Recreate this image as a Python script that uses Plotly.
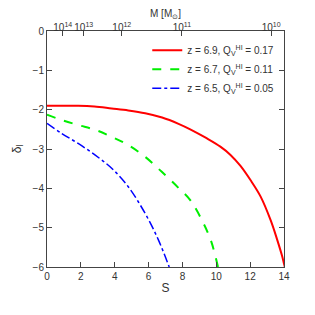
import plotly.graph_objects as go

# Data
s_red = [0, 1.0, 1.84, 2.8, 3.82, 4.8, 5.8, 6.8, 7.77, 8.46, 9.4, 10.24, 10.84, 11.43, 12.02, 12.62, 13.21, 13.6, 13.9, 14.0, 14.05]
d_red = [-1.90, -1.90, -1.90, -1.92, -1.97, -2.02, -2.09, -2.20, -2.36, -2.50, -2.72, -2.94, -3.15, -3.43, -3.79, -4.21, -4.81, -5.31, -5.74, -5.92, -6.0]

s_green = [0, 0.85, 1.84, 2.83, 3.82, 4.8, 5.8, 6.78, 7.77, 8.46, 9.2, 9.7, 10.1]
d_green = [-2.13, -2.26, -2.39, -2.51, -2.69, -2.90, -3.20, -3.58, -3.99, -4.30, -4.85, -5.35, -6.0]

s_blue = [0, 0.85, 1.84, 2.83, 3.82, 4.8, 5.8, 6.58, 7.22]
d_blue = [-2.35, -2.60, -2.86, -3.15, -3.49, -3.96, -4.64, -5.31, -6.0]

labels = ["z = 6.9, Q<sub>V</sub><sup>HI</sup> = 0.17",
          "z = 6.7, Q<sub>V</sub><sup>HI</sup> = 0.11",
          "z = 6.5, Q<sub>V</sub><sup>HI</sup> = 0.05"]

mass_tick_pos = [0.93, 2.17, 4.42, 7.97, 13.24]
mass_tick_text = ["10<sup>14</sup>", "10<sup>13</sup>", "10<sup>12</sup>", "10<sup>11</sup>", "10<sup>10</sup>"]

fig = go.Figure()
fig.add_trace(go.Scatter(x=s_red, y=d_red, mode="lines", name=labels[0],
                         line=dict(color="#ff0000", width=2, shape="spline", smoothing=1.0)))
fig.add_trace(go.Scatter(x=s_green, y=d_green, mode="lines", name=labels[1],
                         line=dict(color="#00ee00", width=2, dash="dash", shape="spline", smoothing=1.0)))
fig.add_trace(go.Scatter(x=s_blue, y=d_blue, mode="lines", name=labels[2],
                         line=dict(color="#0000ff", width=1.5, dash="dashdot", shape="spline", smoothing=1.0)))
fig.add_trace(go.Scatter(x=s_red, y=d_red, xaxis="x2", mode="lines", showlegend=False,
                         line=dict(width=0), hoverinfo="skip", opacity=0))

font = dict(family="Liberation Sans, Arial, sans-serif", size=10, color="#333")

fig.update_layout(
    width=315, height=315,
    margin=dict(l=39, r=39, t=23, b=56),
    paper_bgcolor="white", plot_bgcolor="white",
    font=font,
    showlegend=True,
    legend=dict(x=0.98, y=0.98, xanchor="right", yanchor="top",
                bgcolor="rgba(0,0,0,0)", font=dict(size=10), tracegroupgap=0,
                itemwidth=30),
    xaxis=dict(range=[0, 14], tickvals=[0, 2, 4, 6, 8, 10, 12, 14],
               ticks="inside", ticklen=5, tickcolor="#444", showline=True,
               linecolor="#444", linewidth=1, showgrid=False, zeroline=False,
               tickangle=0, automargin=False,
               title=dict(text="S", standoff=2), mirror=False),
    xaxis2=dict(range=[0, 14], overlaying="x", side="top", anchor="y",
                tickvals=mass_tick_pos, ticktext=mass_tick_text,
                tickfont=dict(size=10), tickangle=0, automargin=False,
                ticklabelstandoff=-5,
                ticks="inside", ticklen=5, tickcolor="#444", showline=True,
                linecolor="#444", linewidth=1, showgrid=False, zeroline=False),
    yaxis=dict(range=[-6, 0], tickvals=[0, -1, -2, -3, -4, -5, -6],
               ticktext=["0", "−1", "−2", "−3", "−4", "−5", "−6"],
               ticks="inside", ticklen=5, tickcolor="#444", showline=True,
               linecolor="#444", linewidth=1, mirror="ticks", showgrid=False,
               zeroline=False, automargin=False,
               title=dict(text="δ<sub>l</sub>", standoff=8)),
    annotations=[dict(text="M [M<sub>⊙</sub>]", xref="paper", yref="paper",
                      x=0.5, y=1.07, xanchor="center", yanchor="middle",
                      showarrow=False, font=dict(size=10))],
)

fig.write_html("out.html")
